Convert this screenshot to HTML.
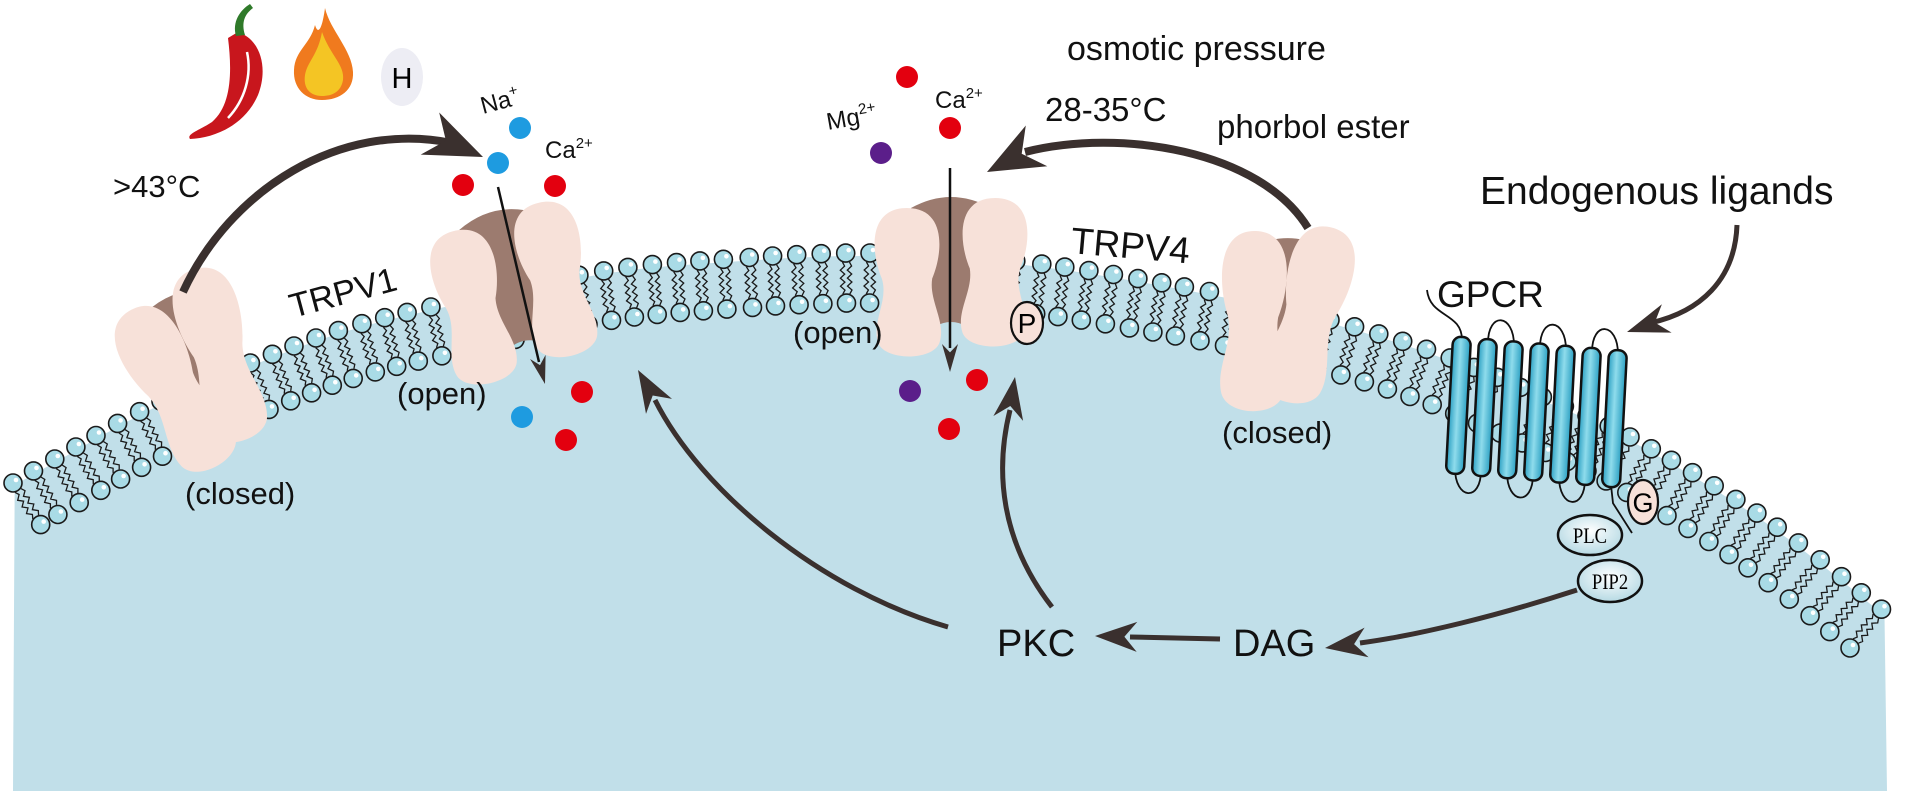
<!DOCTYPE html>
<html><head><meta charset="utf-8">
<style>
html,body{margin:0;padding:0;background:#fff;}
svg{display:block;font-family:"Liberation Sans",Arial,sans-serif;}
</style></head>
<body>
<svg id="s" width="1908" height="791" viewBox="0 0 1908 791" xmlns="http://www.w3.org/2000/svg">
<defs>
<linearGradient id="hx" x1="0" x2="1" y1="0" y2="0">
<stop offset="0" stop-color="#2a9fc2"/><stop offset="0.45" stop-color="#8fdcec"/><stop offset="1" stop-color="#2a9fc2"/>
</linearGradient>
<radialGradient id="el" cx="0.5" cy="0.4" r="0.7">
<stop offset="0" stop-color="#ffffff"/><stop offset="1" stop-color="#a9d3df"/>
</radialGradient>
</defs>
<g id="bg"></g>
<g id="lip"></g>
<g id="gpcr"></g>
<g id="ch"></g>
<g id="arr"></g>
<g id="top">
  <!-- pepper -->
  <path d="M238,32 C262,40 268,70 258,95 C245,125 215,138 190,139 C186,134 200,130 212,122 C232,105 232,70 228,38 Z" fill="#c8161d"/>
  <path d="M236,36 C232,22 240,10 250,4 L253,8 C245,14 241,22 245,35 Z" fill="#2f7a2a"/>
  <path d="M247,52 C252,75 245,100 228,118" stroke="#fff" stroke-width="2.5" fill="none"/>
  <!-- flame -->
  <path d="M325,8 C330,30 352,50 353,72 C354,90 340,100 322,100 C305,100 293,88 294,70 C295,50 310,45 315,25 C318,35 322,30 325,8 Z" fill="#f07a1e"/>
  <path d="M322,32 C330,55 345,65 343,80 C341,92 332,96 322,96 C310,96 303,88 305,75 C307,62 318,55 322,32 Z" fill="#f4c524"/>
  <ellipse cx="402" cy="77" rx="21" ry="29" fill="#ededf4"/>
  <text x="402" y="88" font-size="29" text-anchor="middle">H</text>
</g>
<g id="txt" fill="#111">
  <text x="113" y="197" font-size="31">&gt;43°C</text>
  <text x="293" y="318" font-size="34" transform="rotate(-15 293 318)">TRPV1</text>
  <text x="483" y="114" font-size="24" transform="rotate(-15 483 114)">Na<tspan font-size="15" dy="-10">+</tspan></text>
  <text x="545" y="158" font-size="24">Ca<tspan font-size="15" dy="-10">2+</tspan></text>
  <text x="828" y="130" font-size="24" transform="rotate(-10 828 130)">Mg<tspan font-size="15" dy="-10">2+</tspan></text>
  <text x="935" y="108" font-size="24">Ca<tspan font-size="15" dy="-10">2+</tspan></text>
  <text x="1067" y="60" font-size="34">osmotic pressure</text>
  <text x="1045" y="121" font-size="33">28-35°C</text>
  <text x="1217" y="138" font-size="33">phorbol ester</text>
  <text x="1070" y="253" font-size="37" transform="rotate(5 1070 253)">TRPV4</text>
  <text x="397" y="404" font-size="31">(open)</text>
  <text x="185" y="504" font-size="31">(closed)</text>
  <text x="793" y="343" font-size="31">(open)</text>
  <text x="1222" y="443" font-size="31">(closed)</text>
  <text x="1480" y="204" font-size="39">Endogenous ligands</text>
  <text x="1437" y="307" font-size="37">GPCR</text>
  <text x="997" y="656" font-size="38">PKC</text>
  <text x="1233" y="656" font-size="38">DAG</text>
</g>
<g id="fg"></g>
</svg>
<script>
(function(){
var NS="http://www.w3.org/2000/svg";
function el(par,tag,attrs,txt){var e=document.createElementNS(NS,tag);for(var k in attrs)e.setAttribute(k,attrs[k]);if(txt!==undefined)e.textContent=txt;document.getElementById(par).appendChild(e);return e;}
var P=[[-20,507],[0,495],[13,483],[53,460],[153,405],[263,358],[347,328],[440,305],[597,272],[713,260],[870,253],[1033,263],[1217,293],[1330,320],[1437,353],[1540,396],[1630,437],[1767,520],[1895,620],[1920,640]];
var S=[];
for(var i=1;i<P.length-2;i++){
  var p0=P[i-1],p1=P[i],p2=P[i+1],p3=P[i+2];
  for(var k=0;k<40;k++){var t=k/40,t2=t*t,t3=t2*t;
    var x=0.5*((2*p1[0])+(-p0[0]+p2[0])*t+(2*p0[0]-5*p1[0]+4*p2[0]-p3[0])*t2+(-p0[0]+3*p1[0]-3*p2[0]+p3[0])*t3);
    var y=0.5*((2*p1[1])+(-p0[1]+p2[1])*t+(2*p0[1]-5*p1[1]+4*p2[1]-p3[1])*t2+(-p0[1]+3*p1[1]-3*p2[1]+p3[1])*t3);
    S.push([x,y]);}
}
function tan(j){var a=S[Math.max(0,j-2)],b=S[Math.min(S.length-1,j+2)];var dx=b[0]-a[0],dy=b[1]-a[1],l=Math.hypot(dx,dy);return [dx/l,dy/l];}
// blue fill
var d="";var first=true;
for(var j=0;j<S.length;j++){var p=S[j];if(p[0]<13||p[0]>1887)continue;var tt=tan(j);var nx=-tt[1],ny=tt[0];
  var x=p[0]+3*nx,y=p[1]+3*ny;d+=(first?"M":"L")+x.toFixed(1)+","+y.toFixed(1)+" ";first=false;}
d+="L1887,791 L13,791 Z";
el("bg","path",{d:d,fill:"#c1dfe9"});
// lipids
var acc=0,last=null,lip="",tails="";
for(var j=0;j<S.length;j++){var p=S[j];if(p[0]<13||p[0]>1898)continue;
  if(last){acc+=Math.hypot(p[0]-last[0],p[1]-last[1]);}
  last=p;
  if(last&&acc<23&&lip!=="")continue;
  acc=0;
  var tt=tan(j),nx=-tt[1],ny=tt[0];
  var c1=[p[0],p[1]],c2=[p[0]+50*nx,p[1]+50*ny];
  [-3.5,3.5].forEach(function(o){
    var sx=c1[0]+9*nx+o*tt[0],sy=c1[1]+9*ny+o*tt[1],ex=c2[0]-9*nx+o*tt[0],ey=c2[1]-9*ny+o*tt[1];
    var s="M"+sx.toFixed(1)+","+sy.toFixed(1);
    for(var q=1;q<=8;q++){var f=q/8,a=(q%2?2.2:-2.2);if(q==8)a=0;
      s+=" L"+(sx+(ex-sx)*f+a*tt[0]).toFixed(1)+","+(sy+(ey-sy)*f+a*tt[1]).toFixed(1);}
    tails+=s+" ";
  });
  lip+="x";
  [c1,c2].forEach(function(c){
    el("lip","circle",{cx:c[0].toFixed(1),cy:c[1].toFixed(1),r:9,fill:"#a9dbe6",stroke:"#1a1a1a","stroke-width":1.6});
    el("lip","circle",{cx:(c[0]+3).toFixed(1),cy:(c[1]-3).toFixed(1),r:2.3,fill:"#fff"});
  });
}
el("lip","path",{d:tails,fill:"none",stroke:"#1a1a1a","stroke-width":1.3});
// GPCR
var tops=[];
for(var i=0;i<7;i++){var tx=1462+26*i,ty=337+2.2*i;tops.push([tx,ty]);}
function bot(i){return [tops[i][0]-7,tops[i][1]+135];}
var loops="";
[[1,2],[3,4],[5,6]].forEach(function(pr){var a=tops[pr[0]],b=tops[pr[1]];loops+="M"+a[0]+","+(a[1]+4)+" C"+a[0]+","+(a[1]-28)+" "+b[0]+","+(b[1]-28)+" "+b[0]+","+(b[1]+4)+" ";});
[[0,1],[2,3],[4,5]].forEach(function(pr){var a=bot(pr[0]),b=bot(pr[1]);loops+="M"+a[0]+","+(a[1]-4)+" C"+a[0]+","+(a[1]+28)+" "+b[0]+","+(b[1]+28)+" "+b[0]+","+(b[1]-4)+" ";});
loops+="M1462,340 C1462,312 1430,318 1427,290 ";
var b6=bot(6);loops+="M"+b6[0]+","+b6[1]+" L"+(b6[0]+2)+","+(b6[1]+18)+" L1632,533";
el("gpcr","path",{d:loops,fill:"none",stroke:"#111","stroke-width":1.8});
for(var i=0;i<7;i++){el("gpcr","rect",{x:-9,y:0,width:18,height:137,rx:8,fill:"url(#hx)",stroke:"#111","stroke-width":2.5,transform:"translate("+tops[i][0]+","+tops[i][1]+") rotate(3)"});}
el("gpcr","ellipse",{cx:1590,cy:535,rx:32,ry:20,fill:"url(#el)",stroke:"#111","stroke-width":2.5});
el("gpcr","ellipse",{cx:1610,cy:581,rx:32,ry:21,fill:"url(#el)",stroke:"#111","stroke-width":2.5});
el("gpcr","ellipse",{cx:1643,cy:502,rx:15,ry:22,fill:"#f7e1d9",stroke:"#111","stroke-width":2.2});
el("gpcr","text",{x:1643,y:512,"font-size":27,"text-anchor":"middle"},"G");
el("gpcr","text",{x:1590,y:543,"font-size":22,"text-anchor":"middle","font-family":"Liberation Serif, serif",transform:"translate(1590 0) scale(0.85 1) translate(-1590 0)"},"PLC");
el("gpcr","text",{x:1610,y:589,"font-size":22,"text-anchor":"middle","font-family":"Liberation Serif, serif",transform:"translate(1610 0) scale(0.85 1) translate(-1610 0)"},"PIP2");
// channels
function lobe(w,h){return "M"+w*0.5+",0 C"+w*1.05+",0 "+w*1.0+","+h*0.3+" "+w*0.85+","+h*0.47+" C"+w*0.8+","+h*0.62+" "+w*1.05+","+h*0.76+" "+w*0.95+","+h*0.9+" C"+w*0.85+","+h*1.02+" "+w*0.2+","+h*1.02+" "+w*0.1+","+h*0.9+" C0,"+h*0.76+" "+w*0.25+","+h*0.62+" "+w*0.15+","+h*0.47+" C0,"+h*0.3+" "+(-w*0.05)+",0 "+w*0.5+",0 Z";}
function channel(cx,cy,ang,open,h){
  var g=document.createElementNS(NS,"g");g.setAttribute("transform","translate("+cx+","+cy+") rotate("+ang+")");document.getElementById("ch").appendChild(g);
  function add(tag,a){var e=document.createElementNS(NS,tag);for(var k in a)e.setAttribute(k,a[k]);g.appendChild(e);}
  var w=72,H=h;
  if(open){
    add("path",{d:"M-40,"+(-H/2+14)+" Q0,"+(-H/2-8)+" 40,"+(-H/2+14)+" L32,"+(H/2-14)+" Q0,"+(H/2-50)+" -32,"+(H/2-14)+" Z",fill:"#9c7b6f"});
    add("path",{d:lobe(w,H-10),fill:"#f7e1d9",transform:"translate(-80,"+(-H/2+14)+")"});
    add("path",{d:lobe(w,H-10),fill:"#f7e1d9",transform:"translate(80,"+(-H/2+4)+") scale(-1,1)"});
  }else{
    add("path",{d:"M-32,"+(-H/2+22)+" Q0,"+(-H/2+6)+" 30,"+(-H/2+16)+" L2,"+(H*0.12)+" Z",fill:"#9c7b6f"});
    add("path",{d:lobe(w,H-8),fill:"#f7e1d9",transform:"translate(-72,"+(-H/2+14)+") rotate(-6)"});
    add("path",{d:lobe(w,H-8),fill:"#f7e1d9",transform:"translate(74,"+(-H/2)+") scale(-1,1) rotate(-6)"});
  }
}
channel(196,374,-22,false,188);
channel(513,290,-12,true,168);
channel(951,274,0,true,160);
channel(1280,320,8,false,190);
// P circle
el("ch","ellipse",{cx:1027,cy:323,rx:16,ry:21,fill:"#f7e1d9",stroke:"#111","stroke-width":2.2});
el("ch","text",{x:1027,y:333,"font-size":28,"text-anchor":"middle"},"P");
// arrows
var C="#3a302e";
function head(tx,ty,fx,fy,L,W){var dx=tx-fx,dy=ty-fy,l=Math.hypot(dx,dy);dx/=l;dy/=l;var nx=-dy,ny=dx;
  var bx=tx-L*dx,by=ty-L*dy;
  var pts=[[tx,ty],[bx+W/2*nx,by+W/2*ny],[bx+0.3*L*dx,by+0.3*L*dy],[bx-W/2*nx,by-W/2*ny]];
  el("arr","polygon",{points:pts.map(function(p){return p[0].toFixed(1)+","+p[1].toFixed(1)}).join(" "),fill:C});}
function curve(d,w){el("arr","path",{d:d,fill:"none",stroke:C,"stroke-width":w});}
curve("M183,292 C230,190 340,120 452,143",8); head(483,157,440,138,58,46);
curve("M1308,228 C1260,150 1120,128 1025,152",8); head(987,172,1040,144,56,46);
curve("M1737,225 C1735,280 1700,312 1650,323",5); head(1627,332,1668,318,42,30);
curve("M1577,590 C1500,615 1420,635 1360,643",5); head(1325,648,1370,642,42,30);
curve("M1220,639 L1130,637",5); head(1095,636,1140,637,42,30);
curve("M948,627 C820,590 700,490 655,400",5); head(638,370,664,415,42,30);
curve("M1052,607 C1000,540 995,470 1010,410",5); head(1015,377,1008,420,42,30);
el("arr","path",{d:"M498,187 L539,362",stroke:"#111","stroke-width":2.5,fill:"none"}); head(545,384,536,350,28,16);
el("arr","path",{d:"M950,168 L950,348",stroke:"#111","stroke-width":2.5,fill:"none"}); head(950,372,950,340,28,16);
// ions
var R="#e3000f",B="#1e9be0",V="#5b1e8a";
[[520,128,B],[498,163,B],[463,185,R],[555,186,R],[582,392,R],[522,417,B],[566,440,R],
 [907,77,R],[950,128,R],[881,153,V],[910,391,V],[977,380,R],[949,429,R]].forEach(function(c){
  el("fg","circle",{cx:c[0],cy:c[1],r:11,fill:c[2]});});
})();
</script>
</body></html>
